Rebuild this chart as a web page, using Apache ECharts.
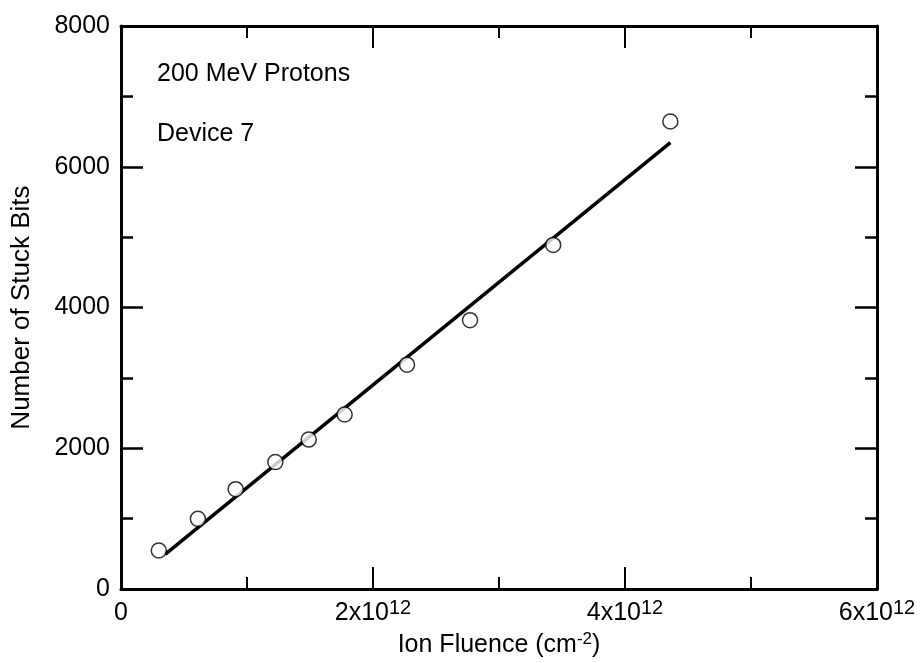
<!DOCTYPE html>
<html>
<head>
<meta charset="utf-8">
<script src="https://cdn.jsdelivr.net/npm/echarts@6/dist/echarts.min.js"></script>
<style>
  html, body { margin: 0; padding: 0; background: #ffffff; }
  #chart { width: 921px; height: 663px; }
</style>
</head>
<body>
<div id="chart"></div>
<script>
// Measured stuck bits vs. proton fluence (fluence in units of 1e12 cm^-2)
const fluenceE12 = [0.30, 0.61, 0.91, 1.225, 1.49, 1.775, 2.27, 2.77, 3.43, 4.36];
const stuckBits  = [548, 998, 1420, 1804, 2124, 2480, 3188, 3821, 4890, 6643];

// Linear fit drawn through the data
const fitFluenceE12 = [0.35, 4.36];
const fitStuckBits  = [492, 6343];

// Axis ranges and tick spacing
const xTicks = [0, 2, 4, 6];
const yTicks = [0, 2000, 4000, 6000, 8000];

const annotations = ['200 MeV Protons', 'Device 7'];

const FONT = '"Liberation Sans", Arial, Helvetica, sans-serif';
const INK = '#000000';

function fluenceLabel(v) {
  if (v === 0) return '{b|0}';
  return '{b|' + v + 'x10}{s|12}';
}

const labelRich = {
  b: { fontSize: 25, fontFamily: FONT, color: INK, lineHeight: 30 },
  s: { fontSize: 20, fontFamily: FONT, color: INK, lineHeight: 20, verticalAlign: 'top' }
};

const axisLineStyle = { color: INK, width: 3 };

const chart = echarts.init(document.getElementById('chart'), null, { renderer: 'canvas' });

const option = {
  backgroundColor: '#ffffff',
  animation: false,
  grid: { left: 121, right: 44, top: 26, bottom: 68, containLabel: false },
  xAxis: [
    {
      type: 'value',
      position: 'bottom',
      min: xTicks[0],
      max: xTicks[xTicks.length - 1],
      interval: xTicks[1] - xTicks[0],
      name: '{t|Ion Fluence (cm}{u|-2}{t|)}',
      nameLocation: 'middle',
      nameGap: 36,
      nameTextStyle: {
        rich: {
          t: { fontSize: 25, fontFamily: FONT, color: INK, lineHeight: 30 },
          u: { fontSize: 17, fontFamily: FONT, color: INK, lineHeight: 18, verticalAlign: 'top' }
        }
      },
      axisLine: { show: true, onZero: false, lineStyle: axisLineStyle },
      axisTick: { show: true, inside: true, length: 22, lineStyle: { color: INK, width: 2 } },
      minorTick: { show: true, splitNumber: 2, length: 12, lineStyle: { color: INK, width: 2 } },
      splitLine: { show: false },
      axisLabel: { margin: 9, formatter: fluenceLabel, rich: labelRich }
    },
    {
      type: 'value',
      position: 'top',
      min: xTicks[0],
      max: xTicks[xTicks.length - 1],
      interval: xTicks[1] - xTicks[0],
      axisLine: { show: true, onZero: false, lineStyle: axisLineStyle },
      axisTick: { show: true, inside: true, length: 22, lineStyle: { color: INK, width: 2 } },
      minorTick: { show: true, splitNumber: 2, length: 12, lineStyle: { color: INK, width: 2 } },
      splitLine: { show: false },
      axisLabel: { show: false }
    }
  ],
  yAxis: [
    {
      type: 'value',
      position: 'left',
      min: yTicks[0],
      max: yTicks[yTicks.length - 1],
      interval: yTicks[1] - yTicks[0],
      name: 'Number of Stuck Bits',
      nameLocation: 'middle',
      nameGap: 86,
      nameTextStyle: { fontSize: 26, fontFamily: FONT, color: INK },
      axisLine: { show: true, onZero: false, lineStyle: axisLineStyle },
      axisTick: { show: true, inside: true, length: 22, lineStyle: { color: INK, width: 2.5 } },
      minorTick: { show: true, splitNumber: 2, length: 12, lineStyle: { color: INK, width: 2.5 } },
      splitLine: { show: false },
      axisLabel: {
        margin: 11,
        fontSize: 25,
        fontFamily: FONT,
        color: INK,
        formatter: (v) => String(v)
      }
    },
    {
      type: 'value',
      position: 'right',
      min: yTicks[0],
      max: yTicks[yTicks.length - 1],
      interval: yTicks[1] - yTicks[0],
      axisLine: { show: true, onZero: false, lineStyle: axisLineStyle },
      axisTick: { show: true, inside: true, length: 22, lineStyle: { color: INK, width: 2.5 } },
      minorTick: { show: true, splitNumber: 2, length: 12, lineStyle: { color: INK, width: 2.5 } },
      splitLine: { show: false },
      axisLabel: { show: false }
    }
  ],
  graphic: [
    {
      type: 'text',
      left: 157,
      top: 62,
      style: { text: annotations[0], font: '25px ' + FONT, fill: INK }
    },
    {
      type: 'text',
      left: 157,
      top: 122,
      style: { text: annotations[1], font: '25px ' + FONT, fill: INK }
    }
  ],
  series: [
    {
      name: 'fit',
      type: 'line',
      xAxisIndex: 0,
      yAxisIndex: 0,
      data: fitFluenceE12.map((x, i) => [x, fitStuckBits[i]]),
      showSymbol: false,
      symbol: 'none',
      lineStyle: { color: INK, width: 3.5 },
      z: 2
    },
    {
      name: 'measured',
      type: 'scatter',
      xAxisIndex: 0,
      yAxisIndex: 0,
      data: fluenceE12.map((x, i) => [x, stuckBits[i]]),
      symbol: 'circle',
      symbolSize: 15,
      itemStyle: { color: '#ffffff', borderColor: INK, borderWidth: 1.5 },
      z: 3
    }
  ]
};

chart.setOption(option);
</script>
</body>
</html>
